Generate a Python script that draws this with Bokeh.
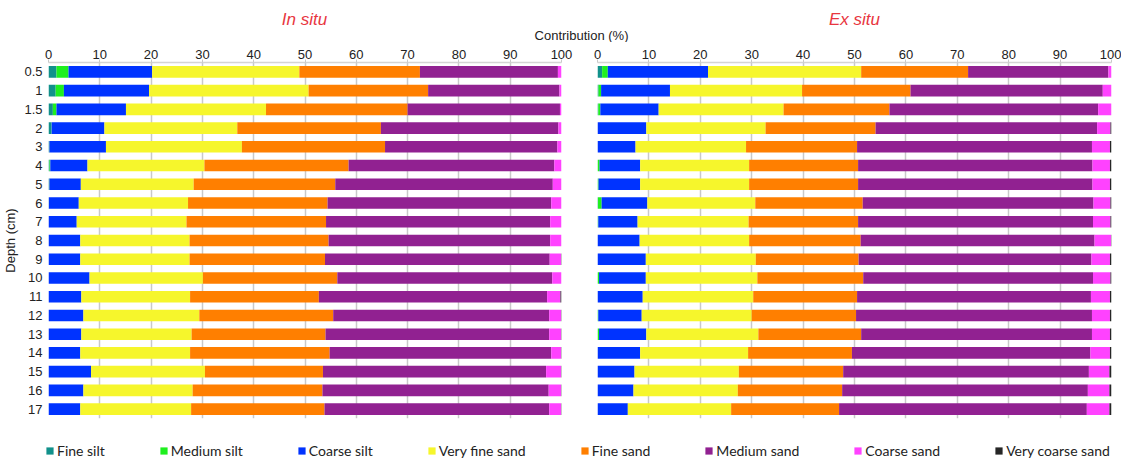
from bokeh.plotting import figure
from bokeh.models import (ColumnDataSource, FactorRange, Range1d, FixedTicker,
                          Label, Legend, LegendItem)
from bokeh.layouts import column, row
from bokeh.embed import file_html
from bokeh.resources import INLINE

# ---------------- data ----------------
depths = ["0.5", "1", "1.5", "2", "3", "4", "5", "6", "7", "8", "9", "10",
          "11", "12", "13", "14", "15", "16", "17"]

classes = ["Fine silt", "Medium silt", "Coarse silt", "Very fine sand",
           "Fine sand", "Medium sand", "Coarse sand", "Very coarse sand"]
colors = ["#11918b", "#1fef1f", "#0033ff", "#f6f62c",
          "#ff7f00", "#912191", "#ff42ff", "#262626"]

# In situ (%)
in_fine_silt = [1.55, 1.4, 0.85, 0.55, 0.2, 0.2, 0.2, 0.05, 0, 0, 0, 0, 0, 0, 0, 0, 0, 0, 0]
in_medium_silt = [2.35, 1.6, 0.7, 0.05, 0, 0.15, 0, 0, 0, 0, 0, 0, 0, 0, 0, 0, 0, 0, 0]
in_coarse_silt = [16.3, 16.6, 13.55, 10.3, 11.0, 7.25, 6.1, 5.85, 5.5, 6.2, 6.2, 8.0, 6.4, 6.8, 6.4, 6.2, 8.3, 6.8, 6.2]
in_very_fine_sand = [28.7, 31.1, 27.3, 25.9, 26.5, 22.8, 22.0, 21.3, 21.4, 21.3, 21.3, 22.1, 21.2, 22.6, 21.5, 21.4, 22.2, 21.3, 21.6]
in_fine_sand = [23.5, 23.3, 27.6, 28.0, 27.9, 28.1, 27.6, 27.2, 27.2, 27.1, 26.4, 26.2, 25.1, 26.1, 26.1, 27.2, 23.0, 25.3, 26.0]
in_medium_sand = [26.9, 25.6, 29.7, 34.6, 33.6, 40.1, 42.4, 43.6, 43.7, 43.2, 43.8, 41.9, 44.5, 42.1, 43.6, 43.2, 43.5, 44.1, 43.8]
in_coarse_sand = [0.7, 0.4, 0.3, 0.6, 0.8, 1.4, 1.7, 2.0, 2.2, 2.2, 2.2, 1.8, 2.6, 2.3, 2.3, 1.9, 2.9, 2.4, 2.3]
in_very_coarse_sand = [0, 0, 0, 0, 0, 0, 0, 0, 0, 0, 0.1, 0, 0.2, 0.1, 0.1, 0.1, 0.1, 0.1, 0.1]

# Ex situ (%)
ex_fine_silt = [0.9, 0.2, 0.15, 0, 0, 0, 0, 0.1, 0.05, 0, 0, 0, 0, 0, 0, 0, 0, 0, 0]
ex_medium_silt = [1.1, 0.5, 0.4, 0, 0, 0.4, 0.2, 0.7, 0.1, 0, 0, 0.3, 0, 0.15, 0.3, 0, 0, 0, 0]
ex_coarse_silt = [19.5, 13.4, 11.35, 9.5, 7.4, 7.9, 8.1, 8.9, 7.65, 8.2, 9.4, 9.1, 8.8, 8.45, 9.2, 8.3, 7.2, 7.0, 5.9]
ex_very_fine_sand = [29.8, 25.7, 24.3, 23.2, 21.5, 21.2, 21.2, 21.0, 21.6, 21.3, 21.4, 21.7, 21.5, 21.4, 21.8, 21.0, 20.3, 20.3, 20.1]
ex_fine_sand = [20.8, 21.1, 20.6, 21.4, 21.6, 21.2, 21.2, 20.9, 21.3, 21.7, 20.0, 20.6, 20.2, 20.3, 20.0, 20.2, 20.3, 20.3, 21.0]
ex_medium_sand = [27.3, 37.4, 40.6, 43.1, 45.7, 45.6, 45.6, 44.9, 45.7, 45.5, 45.3, 44.7, 45.5, 45.9, 44.9, 46.4, 47.8, 47.8, 48.2]
ex_coarse_sand = [0.6, 1.7, 2.6, 2.6, 3.5, 3.4, 3.4, 3.3, 3.4, 3.2, 3.6, 3.4, 3.7, 3.5, 3.5, 3.8, 4.0, 4.2, 4.4]
ex_very_coarse_sand = [0, 0, 0, 0.2, 0.3, 0.3, 0.3, 0.2, 0.2, 0.1, 0.3, 0.2, 0.3, 0.3, 0.3, 0.3, 0.4, 0.4, 0.4]

x_ticks = [0, 10, 20, 30, 40, 50, 60, 70, 80, 90, 100]

in_situ = dict(zip(classes, [in_fine_silt, in_medium_silt, in_coarse_silt, in_very_fine_sand,
                             in_fine_sand, in_medium_sand, in_coarse_sand, in_very_coarse_sand]))
ex_situ = dict(zip(classes, [ex_fine_silt, ex_medium_silt, ex_coarse_silt, ex_very_fine_sand,
                             ex_fine_sand, ex_medium_sand, ex_coarse_sand, ex_very_coarse_sand]))

# ---------------- layout constants ----------------
FRAME_W = 514
FRAME_H = 356
TOP = 20
BOTTOM = 10
L_LEFT, L_RIGHT = 47, 16
R_LEFT, R_RIGHT = 20, 10
HEADER_H = 42
LEGEND_H = 40
TOTAL_W = L_LEFT + FRAME_W + L_RIGHT + R_LEFT + FRAME_W + R_RIGHT

AX_FONT = "Liberation Sans"


def panel(data, left, right, show_y):
    src = ColumnDataSource(dict(depth=depths, **data))
    p = figure(width=left + FRAME_W + right, height=TOP + FRAME_H + BOTTOM,
               x_range=Range1d(0, 100), y_range=FactorRange(*reversed(depths)),
               x_axis_location="above", output_backend="svg", toolbar_location=None,
               min_border_left=left, min_border_right=right,
               min_border_top=TOP, min_border_bottom=BOTTOM)
    p.y_range.range_padding = 0
    p.hbar_stack(classes, y="depth", height=0.62, source=src,
                 fill_color=colors, line_color=None)
    p.outline_line_color = None
    p.background_fill_color = "white"
    p.border_fill_color = "white"
    p.xgrid.ticker = FixedTicker(ticks=x_ticks)
    p.xgrid.grid_line_color = "#c9c9c9"
    p.xgrid.grid_line_width = 1.5
    p.ygrid.grid_line_color = None
    xa = p.xaxis[0]
    xa.ticker = FixedTicker(ticks=x_ticks)
    xa.axis_line_color = "#d4d4d4"
    xa.axis_line_width = 1.5
    xa.major_tick_line_color = "#c9c9c9"
    xa.major_tick_out = 3
    xa.major_tick_in = 0
    xa.minor_tick_line_color = None
    xa.major_label_standoff = 1
    xa.major_label_text_font = AX_FONT
    xa.major_label_text_font_size = "13px"
    xa.major_label_text_color = "#222222"
    ya = p.yaxis[0]
    if show_y:
        ya.axis_label = "Depth (cm)"
        ya.axis_label_text_font = AX_FONT
        ya.axis_label_text_font_style = "normal"
        ya.axis_label_text_font_size = "13px"
        ya.axis_label_text_color = "#222222"
        ya.axis_label_standoff = 3
        ya.major_label_text_font = AX_FONT
        ya.major_label_text_font_size = "13px"
        ya.major_label_text_color = "#222222"
        ya.major_label_standoff = 6
        ya.major_tick_line_color = None
        ya.major_tick_out = 0
        ya.major_tick_in = 0
        ya.axis_line_color = None
    else:
        ya.visible = False
    return p


left = panel(in_situ, L_LEFT, L_RIGHT, True)
right = panel(ex_situ, R_LEFT, R_RIGHT, False)

# ---------------- header ----------------
header = figure(width=TOTAL_W, height=HEADER_H, x_range=Range1d(0, TOTAL_W),
                y_range=Range1d(0, HEADER_H), x_axis_type=None, y_axis_type=None,
                output_backend="svg", toolbar_location=None, min_border=0,
                outline_line_color=None)
title_style = dict(text_font=AX_FONT, text_font_size="17px", text_font_style="italic",
                   text_color="#e8363f", text_align="center", text_baseline="middle")
header.add_layout(Label(x=L_LEFT + FRAME_W / 2, y=HEADER_H - 19, text="In situ", **title_style))
header.add_layout(Label(x=L_LEFT + FRAME_W + L_RIGHT + R_LEFT + FRAME_W / 2, y=HEADER_H - 19,
                        text="Ex situ", **title_style))
header.add_layout(Label(x=L_LEFT + FRAME_W + 20, y=HEADER_H - 35, text="Contribution (%)",
                        text_font=AX_FONT, text_font_size="13px", text_color="#222222",
                        text_align="center", text_baseline="middle"))

# ---------------- legend ----------------
leg = figure(width=TOTAL_W, height=LEGEND_H, x_range=Range1d(0, 1), y_range=Range1d(0, 1),
             x_axis_type=None, y_axis_type=None, output_backend="svg",
             toolbar_location=None, min_border=0, outline_line_color=None)
items = []
for name, col in zip(classes, colors):
    # legend proxy: one row with no drawable value
    r = leg.vbar(x=[float("nan")], top=[float("nan")], width=0.1,
                 fill_color=col, line_color=None)
    items.append(LegendItem(label=name, renderers=[r]))
legend = Legend(items=items, orientation="horizontal", location=(45, 9),
                glyph_width=9, glyph_height=9, label_height=14, label_standoff=3,
                spacing=54, padding=0, margin=0, border_line_color=None,
                background_fill_alpha=0, label_text_font="Lato",
                label_text_font_size="14px", label_text_color="#222222")
leg.add_layout(legend, "center")

layout = column(header, row(left, right), leg)
open("out.html", "w").write(file_html(layout, INLINE))
